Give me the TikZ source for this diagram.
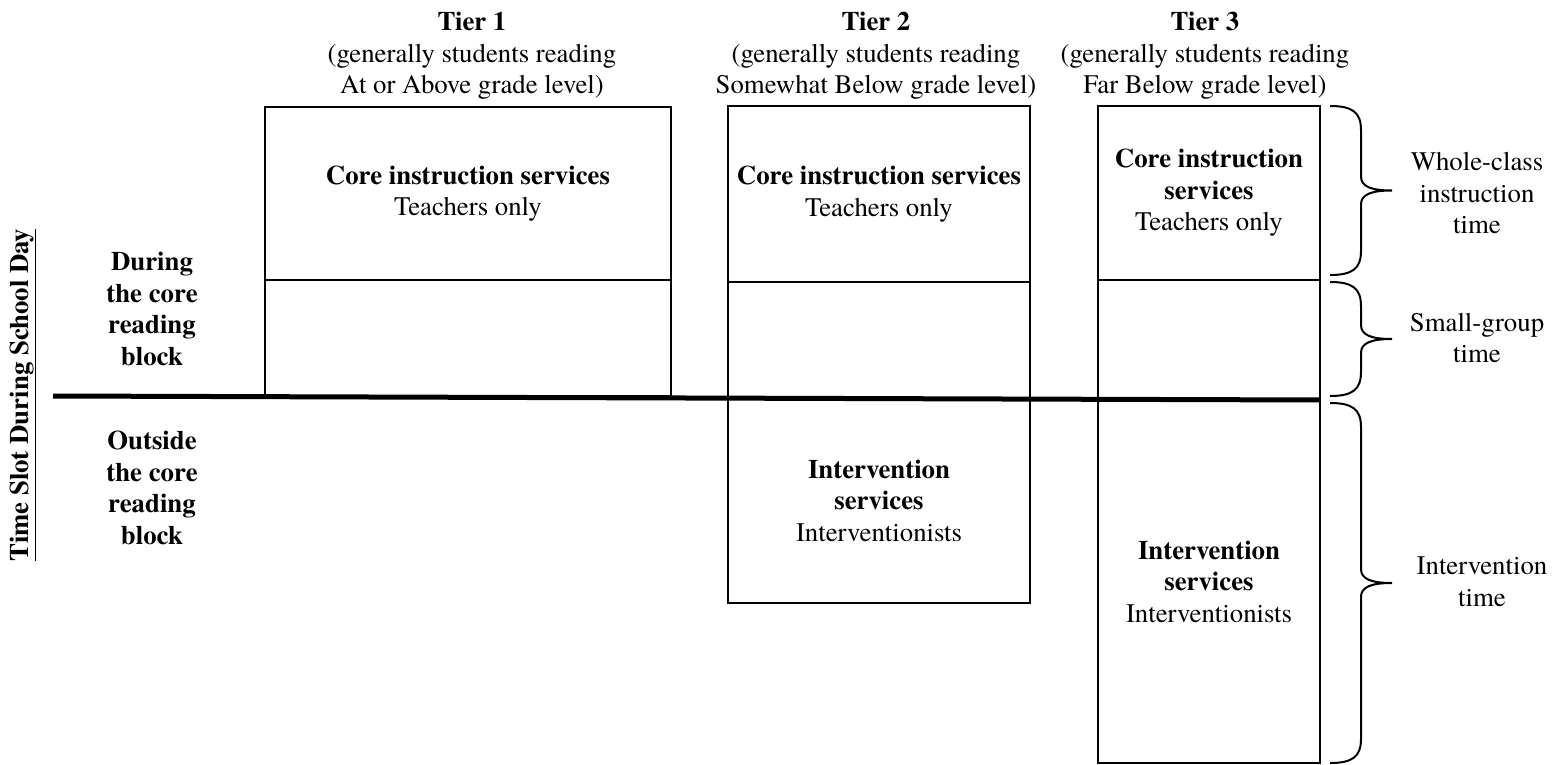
\documentclass[tikz,border=0pt]{standalone}
\usepackage{fontspec}
\setmainfont{texgyretermes}[Extension=.otf, UprightFont=*-regular, BoldFont=*-bold, ItalicFont=*-italic, BoldItalicFont=*-bolditalic]
\usetikzlibrary{positioning,calc}
\tikzset{
cell/.style={draw, rectangle, line width=2pt, outer sep=0pt, inner sep=0pt, align=center},
head/.style={align=center},
side/.style={align=center, font=\bfseries},
}
\newcommand{\timebrace}[2]{%
  \draw[line width=2pt] let \p1=(#1), \p2=(#2), \p3=($(#1)!.5!(#2)$) in
    (\p1) .. controls (\x1+22pt,\y1) and (\x1+31pt,\y1-6pt) .. (\x1+31pt,\y1-24pt)
    -- (\x1+31pt,\y3+14pt) .. controls (\x1+31pt,\y3+4pt) and (\x1+41pt,\y3) .. (\x1+62pt,\y3)
    .. controls (\x1+41pt,\y3) and (\x1+31pt,\y3-4pt) .. (\x1+31pt,\y3-14pt)
    -- (\x1+31pt,\y2+24pt) .. controls (\x1+31pt,\y2+6pt) and (\x1+22pt,\y2) .. (\p2);}
\begin{document}
\fontsize{26.8}{31.5}\selectfont
\begin{tikzpicture}[x=1pt, y=-1pt]
\useasboundingbox (0,0) rectangle (1555,765);
% tier headers
\node[head] (h1) at (472,56) {\textbf{Tier 1}\\(generally students reading\\At or Above grade level)};
\node[head] (h2) at (876,56) {\textbf{Tier 2}\\(generally students reading\\Somewhat Below grade level)};
\node[head] (h3) at (1205,56) {\textbf{Tier 3}\\(generally students reading\\Far Below grade level)};
% tier 1
\node[cell, minimum width=406pt, minimum height=173pt, anchor=north west] (t1core) at (265,107) {\textbf{Core instruction services}\\Teachers only};
\node[cell, minimum width=406pt, minimum height=116pt, below=0pt of t1core] (t1small) {};
% tier 2
\node[cell, minimum width=302pt, minimum height=176pt, anchor=north west] (t2core) at (728,106) {\textbf{Core instruction services}\\Teachers only};
\node[cell, minimum width=302pt, minimum height=116pt, below=0pt of t2core] (t2small) {};
\node[cell, minimum width=302pt, minimum height=205pt, below=0pt of t2small] (t2int) {\textbf{Intervention}\\\textbf{services}\\Interventionists};
% tier 3
\node[cell, minimum width=222pt, minimum height=174pt, anchor=north west] (t3core) at (1098,106) {\textbf{Core instruction}\\\textbf{services}\\Teachers only};
\node[cell, minimum width=222pt, minimum height=120pt, below=0pt of t3core] (t3small) {};
\node[cell, minimum width=222pt, minimum height=363pt, below=0pt of t3small] (t3int) {\textbf{Intervention}\\\textbf{services}\\Interventionists};
% time slots
\node[rotate=90, font=\bfseries] (slot) at (23,395) {\underline{Time Slot During School Day}};
\node[side] (during) at (152,309) {During\\the core\\reading\\block};
\node[side] (outside) at (152,488) {Outside\\the core\\reading\\block};
\coordinate (axis) at (53,396);
\draw[line width=5pt] (axis) -- (t3small.south east);
% braces
\timebrace{$(t3core.north east)+(10,0)$}{$(t3core.south east)+(10,-5)$}
\timebrace{$(t3small.north east)+(10,2)$}{$(t3small.south east)+(10,-4)$}
\timebrace{$(t3int.north east)+(10,3)$}{$(t3int.south east)+(10,0)$}
\node[head] (whole) at (1477,193) {Whole-class\\instruction\\time};
\node[head] (small) at (1477,338) {Small-group\\time};
\node[head] (inter) at (1482,582) {Intervention\\time};
\end{tikzpicture}
\end{document}
